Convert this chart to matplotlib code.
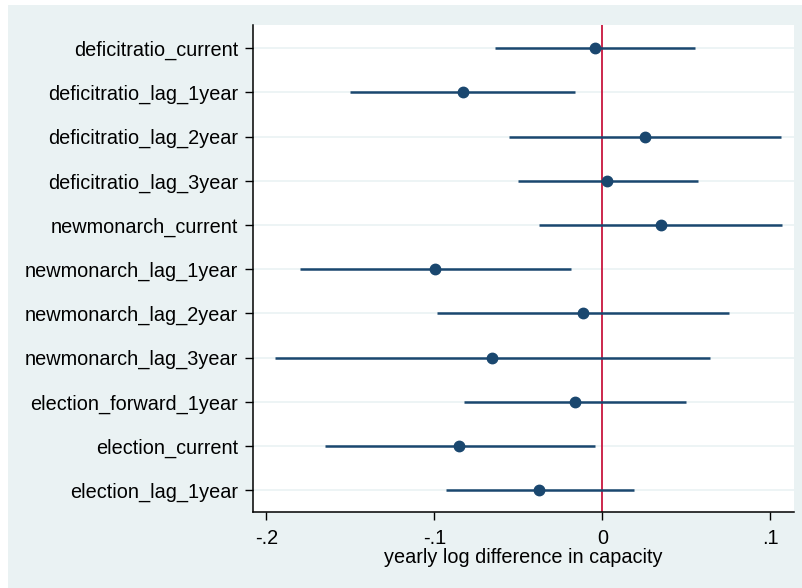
import numpy as np
import matplotlib
matplotlib.use("Agg")
import matplotlib.pyplot as plt
from matplotlib.patches import Rectangle

matplotlib.rcParams['font.family'] = ['Liberation Sans', 'DejaVu Sans']

# ==============================================================================
# coefficient estimates and 95% intervals, top row first
labels = ['deficitratio_current', 'deficitratio_lag_1year', 'deficitratio_lag_2year',
          'deficitratio_lag_3year', 'newmonarch_current', 'newmonarch_lag_1year',
          'newmonarch_lag_2year', 'newmonarch_lag_3year', 'election_forward_1year',
          'election_current', 'election_lag_1year']
coef = [-0.0046, -0.0830, 0.0254, 0.0030, 0.0349, -0.0998,
        -0.0115, -0.0656, -0.0161, -0.0850, -0.0374]
ci_low = [-0.0641, -0.1504, -0.0554, -0.0502, -0.0374, -0.1799,
          -0.0985, -0.1947, -0.0824, -0.1651, -0.0930]
ci_high = [0.0554, -0.0161, 0.1064, 0.0569, 0.1068, -0.0189,
           0.0754, 0.0641, 0.0499, -0.0044, 0.0186]
x_ticks = [-0.2, -0.1, 0.0, 0.1]
x_tick_labels = ['-.2', '-.1', '0', '.1']
x_title = 'yearly log difference in capacity'

# ==============================================================================
bg_color = '#EAF2F3'
mark_color = '#1A476F'
ref_color = '#C8163E'
font_size = 14.3

fig = plt.figure(figsize=(8.02, 5.88), dpi=100)
fig.patch.set_facecolor('white')
# stata style grey graph region (starts a few pixels in from the top-left)
fig.patches.append(Rectangle((8 / 802, 0), 1, 1 - 5 / 588, transform=fig.transFigure,
                             facecolor=bg_color, edgecolor='none', zorder=-10))

ax = fig.add_axes([253.3 / 802, 1 - 512.3 / 588, (794 - 253.3) / 802, (512.3 - 25) / 588])
ax.set_facecolor('white')

n = len(labels)
y = np.arange(n, 0, -1)

for yy in y:
    ax.axhline(yy, color=bg_color, lw=1.2, zorder=1)

ax.axvline(0, color=ref_color, lw=1.3, zorder=2)

ax.hlines(y, ci_low, ci_high, color=mark_color, lw=1.8, zorder=3)
ax.plot(coef, y, 'o', color=mark_color, markersize=7.5, zorder=4)

ax.set_xlim(-0.2077, 0.1141)
ax.set_ylim(0.5, n + 0.527)

ax.set_yticks(y)
ax.set_yticklabels(labels)
ax.set_xticks(x_ticks)
ax.set_xticklabels(x_tick_labels)

for side in ['top', 'right']:
    ax.spines[side].set_visible(False)
for side in ['left', 'bottom']:
    ax.spines[side].set_color('black')
    ax.spines[side].set_linewidth(1.1)

ax.tick_params(axis='both', which='major', direction='out', length=6, width=1,
               color='black', labelsize=font_size)
ax.tick_params(axis='y', pad=5)
ax.tick_params(axis='x', pad=6)
ax.set_xlabel(x_title, fontsize=font_size, labelpad=0)

fig.savefig('out.png', dpi=100, facecolor=fig.get_facecolor())
